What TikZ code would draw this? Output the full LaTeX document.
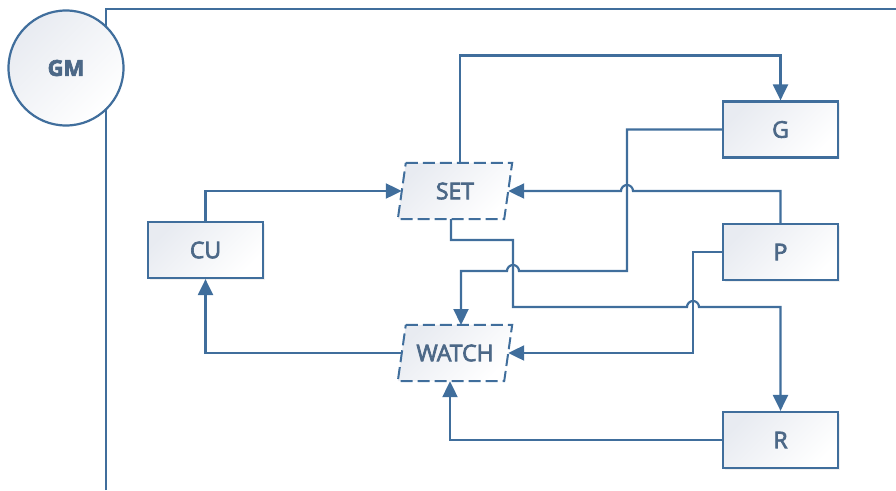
\documentclass[tikz,border=0pt]{standalone}
\usepackage{fontspec}
\setmainfont{Open Sans}[FakeBold=3]
\usetikzlibrary{arrows.meta,calc,shadows}
\definecolor{edgeblue}{RGB}{64,110,156}
\definecolor{txtblue}{RGB}{76,104,135}
\definecolor{fillgray}{RGB}{232,235,241}
\tikzset{
  wire/.style={draw=edgeblue,line width=2.2pt,line join=miter},
  arr/.style={wire,-{Triangle[length=16pt,width=15pt]}},
  grad/.style={left color=fillgray,right color=white,shading angle=45},
  box/.style={draw=edgeblue,line width=2.2pt,minimum width=115pt,minimum height=56pt,
    inner sep=0pt,grad,
    drop shadow={opacity=0.12,shadow xshift=1.5pt,shadow yshift=-1.5pt},
    text=txtblue,font=\fontsize{23}{26}\selectfont},
  slot/.style={minimum width=106pt,minimum height=56pt,inner sep=0pt,
    text=txtblue,font=\fontsize{23}{26}\selectfont},
  slant/.style={draw=edgeblue,line width=2pt,dash pattern=on 12pt off 5pt,grad},
}
\begin{document}
\begin{tikzpicture}[x=1pt,y=-1pt]
\useasboundingbox (0,0) rectangle (896,490);

% outer frame
\draw[wire] (106,490) -- (106,9) -- (900,9);

% GM circle
\node[circle,draw=edgeblue,line width=2.2pt,minimum size=115pt,inner sep=0pt,grad,
  text=txtblue,font=\fontsize{22}{26}\selectfont\bfseries] (gm) at (66,68) {GM};

% rectangular blocks
\node[box] (cu) at (205.5,250) {CU};
\node[box] (g)  at (780.5,129.5) {G};
\node[box] (p)  at (780.5,252) {P};
\node[box] (r)  at (780.5,440) {R};

% dashed parallelogram blocks
\node[slot] (set) at (455,191) {};
\node[slot] (watch) at (455,353) {};
\foreach \n in {set,watch}{
  \path[slant] ([xshift=4pt]\n.north west) -- ([xshift=4pt]\n.north east)
    -- ([xshift=-4pt]\n.south east) -- ([xshift=-4pt]\n.south west) -- cycle;
}
\node[slot] at (set) {SET};
\node[slot] at (watch) {WATCH};

% connectors
\draw[arr] (cu.north) |- (set.west);
\draw[arr] ([xshift=5pt]set.north) |- ([yshift=45pt]g.north) -- (g.north);
\draw[arr] (p.north) |- (633,191) arc[start angle=0,end angle=180,radius=6pt] -- (set.east);
\draw[arr] (g.west) -- (627,129.5) -- (627,271) -- (519,271)
  arc[start angle=0,end angle=180,radius=6pt] -- (461,271) -- (461,325);
\draw[arr] ([xshift=-4pt]set.south) -- (451,240) -- (513,240) -- (513,307) -- (687,307)
  arc[start angle=180,end angle=0,radius=6pt] -- (780.5,307) -- (r.north);
\draw[arr] (p.west) -- (693,252) |- (watch.east);
\draw[arr] (watch.west) -| (cu.south);
\draw[arr] (r.west) -| ([xshift=-5pt]watch.south);
\end{tikzpicture}
\end{document}
